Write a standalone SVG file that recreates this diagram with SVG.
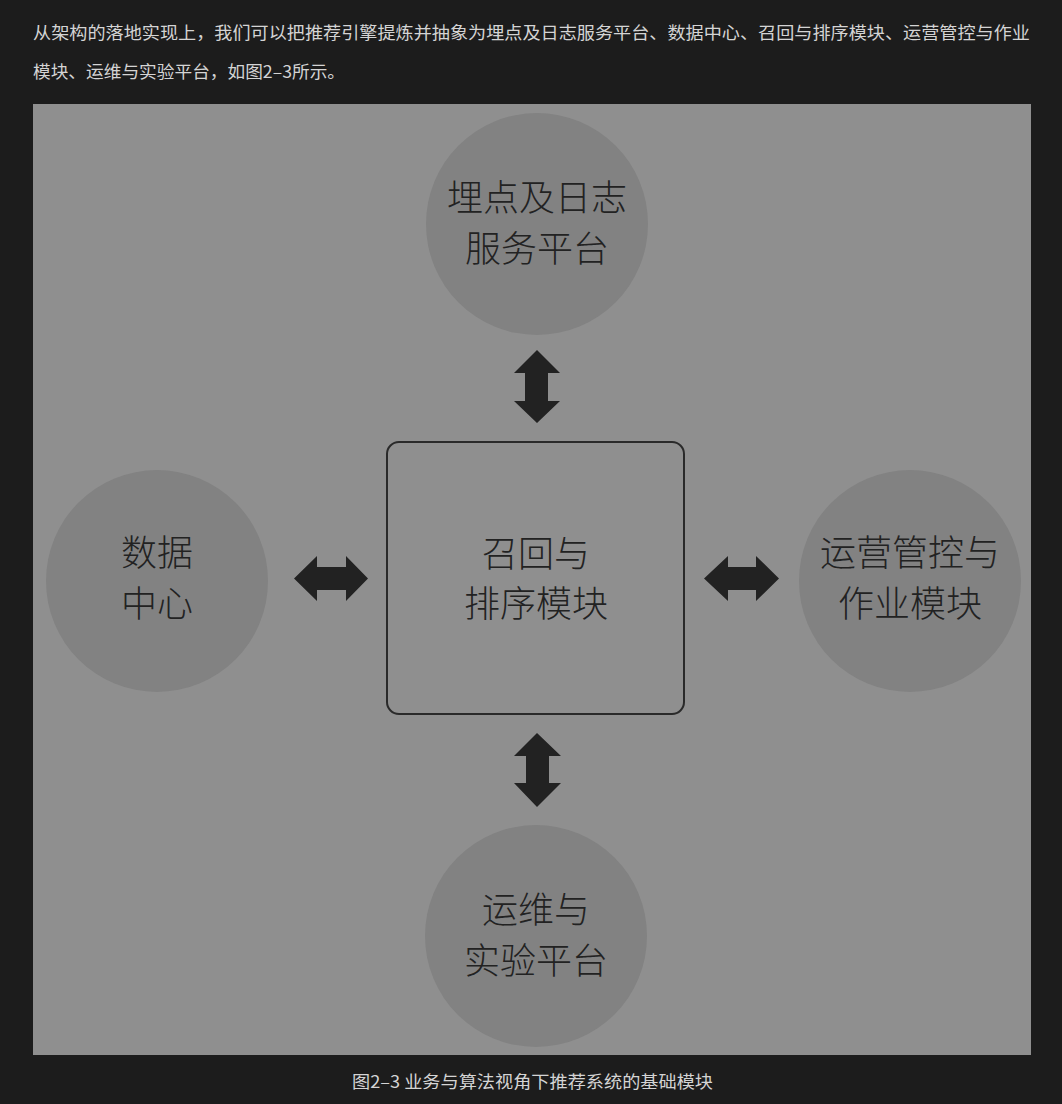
<svg xmlns="http://www.w3.org/2000/svg" width="1062" height="1104" viewBox="0 0 1062 1104">
<style>
.para{font-family:"Noto Sans CJK SC","Liberation Sans",sans-serif;font-size:17px;fill:#d4d4d4}
.lbl{font-family:"Noto Sans CJK SC","Liberation Sans",sans-serif;font-size:36px;font-weight:300;fill:#222222;text-anchor:middle}
.circ{fill:#828282}
.arr{fill:#222222}
</style>
<rect x="0" y="0" width="1062" height="1104" fill="#1c1c1c"/>
<text class="para" x="33" y="39" textLength="997" lengthAdjust="spacingAndGlyphs">从架构的落地实现上，我们可以把推荐引擎提炼并抽象为埋点及日志服务平台、数据中心、召回与排序模块、运营管控与作业</text>
<text class="para" x="33" y="78" textLength="312" lengthAdjust="spacingAndGlyphs">模块、运维与实验平台，如图2–3所示。</text>
<rect x="33" y="104" width="998" height="951" fill="#8f8f8f"/>
<g id="node-log">
<circle class="circ" cx="537" cy="224" r="111"/>
<text class="lbl" x="537" y="211">埋点及日志</text>
<text class="lbl" x="537" y="262">服务平台</text>
</g>
<g id="node-data">
<circle class="circ" cx="157" cy="581" r="111"/>
<text class="lbl" x="157" y="566">数据</text>
<text class="lbl" x="157" y="617">中心</text>
</g>
<g id="node-ops">
<circle class="circ" cx="910" cy="581" r="111"/>
<text class="lbl" x="910" y="566">运营管控与</text>
<text class="lbl" x="910" y="617">作业模块</text>
</g>
<g id="node-exp">
<circle class="circ" cx="536" cy="936" r="111"/>
<text class="lbl" x="536" y="923">运维与</text>
<text class="lbl" x="536" y="974">实验平台</text>
</g>
<g id="node-center">
<rect x="387" y="442" width="297" height="272" rx="12" fill="none" stroke="#2a2a2a" stroke-width="2"/>
<text class="lbl" x="536" y="567">召回与</text>
<text class="lbl" x="536" y="617">排序模块</text>
</g>
<g id="connectors">
<polygon class="arr" points="537,350 560,373 548,373 548,401 560,401 537,423 514,401 525,401 525,373 514,373"/>
<polygon class="arr" points="537,733 561,756 549,756 549,783 561,783 537,807 514,783 526,783 526,756 514,756"/>
<polygon class="arr" points="294,578.5 317,556 317,567 346,567 346,556 368,578.5 346,601 346,590 317,590 317,601"/>
<polygon class="arr" points="704,578.5 728,556 728,567 756,567 756,556 779,578.5 756,601 756,590 728,590 728,601"/>
</g>
<text class="para" x="352" y="1088" textLength="361" lengthAdjust="spacingAndGlyphs">图2–3 业务与算法视角下推荐系统的基础模块</text>
</svg>
